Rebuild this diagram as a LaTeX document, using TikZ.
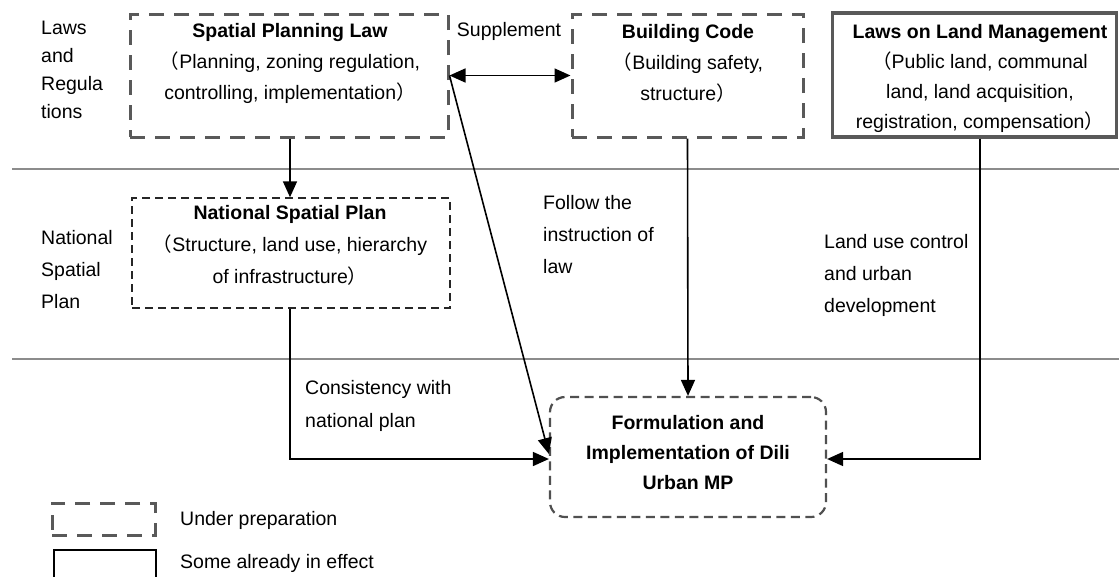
\documentclass[tikz,border=0pt]{standalone}
\usepackage{fontspec}
\setmainfont{Liberation Sans}
\newfontfamily\cjk{Noto Sans CJK SC}
\usetikzlibrary{arrows.meta}
\newcommand{\fwlp}{{\cjk （}}
\newcommand{\fwrp}{{\cjk ）}}
\definecolor{boxgray}{HTML}{595959}
\definecolor{rulegray}{HTML}{8C8C8C}
\begin{document}
\begin{tikzpicture}[x=1pt,y=-1pt,
  every node/.style={inner sep=0pt, font=\fontsize{19.5}{30}\selectfont},
  lawbox/.style={draw=boxgray, line width=3pt, dash pattern=on 15pt off 10pt},
  effectbox/.style={draw=boxgray, line width=3.2pt},
  planbox/.style={draw=black!85, line width=1.4pt, dash pattern=on 8pt off 5pt},
  mpbox/.style={draw=boxgray!90!black, line width=2.2pt, dash pattern=on 9pt off 5.5pt, rounded corners=15pt},
  boxtext/.style={align=center},
  sidetext/.style={align=left, anchor=west},
  wide/.style={font=\fontsize{19.5}{32}\selectfont},
  rule/.style={draw=rulegray, line width=2.8pt},
  link/.style={draw=black, line width=1.6pt},
  tip/.style={-{Triangle[length=16pt,width=14pt]}},
  both/.style={{Triangle[length=16pt,width=14pt]}-{Triangle[length=16pt,width=14pt]}}
]
\useasboundingbox (0,0) rectangle (1119,576);

% layer separators
\coordinate (r1a) at (12,169);  \coordinate (r1b) at (1119,169);
\coordinate (r2a) at (12,359);  \coordinate (r2b) at (1119,359);
\draw[rule] (r1a) -- (r1b);
\draw[rule] (r2a) -- (r2b);

% layer captions
\node[sidetext, font=\fontsize{19.5}{28}\selectfont] (capLaw) at (41,70) {Laws\\and\\Regula\\tions};
\node[sidetext, wide] (capNat) at (41,270) {National\\Spatial\\Plan};

% laws and regulations
\node[lawbox, minimum width=318pt, minimum height=123pt] (spl) at (289,75.5) {};
\node[boxtext, font=\fontsize{19.5}{31}\selectfont] (spltxt) at (290,63) {\textbf{Spatial Planning Law}\\\fwlp Planning, zoning regulation,\\controlling, implementation\fwrp};

\node[lawbox, minimum width=231pt, minimum height=123pt] (bc) at (687.5,75.5) {};
\node[boxtext, font=\fontsize{19.5}{31}\selectfont] (bctxt) at (688,63) {\textbf{Building Code}\\\fwlp Building safety,\\structure\fwrp};

\node[effectbox, minimum width=284pt, minimum height=124pt] (llm) at (974.5,75) {};
\node[boxtext] (llmtxt) at (980,78) {\textbf{Laws on Land Management}\\\fwlp Public land, communal\\land, land acquisition,\\registration, compensation\fwrp};

\node (sup) at (509,31) {Supplement};

% national spatial plan
\node[planbox, minimum width=318pt, minimum height=110pt] (nsp) at (291,253) {};
\node[boxtext, wide] (nsptxt) at (290,245) {\textbf{National Spatial Plan}\\\fwlp Structure, land use, hierarchy\\of infrastructure\fwrp};

% urban master plan
\node[mpbox, minimum width=276pt, minimum height=120pt] (mp) at (688,457) {};
\node[boxtext, font=\fontsize{19.5}{30}\selectfont\bfseries] (mptxt) at (688,453) {Formulation and\\Implementation of Dili\\Urban MP};

% connector labels
\node[sidetext, wide] (lblFollow) at (543,235) {Follow the\\instruction of\\law};
\node[sidetext, wide] (lblLand) at (824,275) {Land use control\\and urban\\development};
\node[sidetext, font=\fontsize{19.5}{33}\selectfont] (lblCons) at (305,406) {Consistency with\\national plan};

% connectors
\coordinate (diagend) at (0,454);
\coordinate (feedy) at (0,459);
\coordinate (landx) at (980,0);
\coordinate (nspx) at (290,0);
\draw[link, both] (spl.east) -- (bc.west);
\draw[link, tip] (spl.south -| nspx) -- (nsp.north -| nspx);
\draw[link, tip] (spl.east) -- (mp.west |- diagend);
\draw[link, tip] (bc.south) -- (mp.north);
\draw[link, tip] (nsp.south -| nspx) -- (nspx |- feedy) -- (mp.west |- feedy);
\draw[link, tip] (llm.south -| landx) -- (landx |- feedy) -- (mp.east |- feedy);

% legend
\node[lawbox, minimum width=103pt, minimum height=32pt] (legPrep) at (103.5,519) {};
\node[sidetext] (legPrepTxt) at (180,520) {Under preparation};
\node[draw=black, line width=1.6pt, minimum width=102pt, minimum height=50pt] (legEff) at (105,575) {};
\node[sidetext] (legEffTxt) at (180,563) {Some already in effect};
\end{tikzpicture}
\end{document}
